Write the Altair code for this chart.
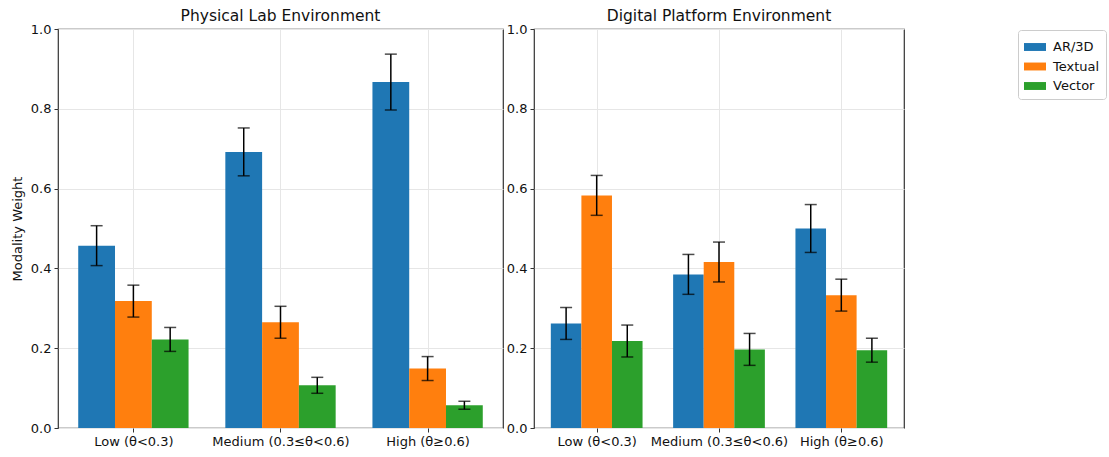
import altair as alt
import pandas as pd

# Threshold groups on the x axis and the three modalities per group
groups = ["Low (θ<0.3)", "Medium (0.3≤θ<0.6)", "High (θ≥0.6)"]
modalities = ["AR/3D", "Textual", "Vector"]
colors = ["#1f77b4", "#ff7f0e", "#2ca02c"]

# Physical lab: mean modality weight and error per modality (one value per group)
physical_ar = [0.457, 0.692, 0.867]
physical_text = [0.318, 0.265, 0.149]
physical_vec = [0.222, 0.107, 0.057]
physical_ar_err = [0.05, 0.06, 0.07]
physical_text_err = [0.04, 0.04, 0.03]
physical_vec_err = [0.03, 0.02, 0.01]

# Digital platform
digital_ar = [0.262, 0.385, 0.500]
digital_text = [0.583, 0.416, 0.333]
digital_vec = [0.218, 0.197, 0.195]
digital_ar_err = [0.04, 0.05, 0.06]
digital_text_err = [0.05, 0.05, 0.04]
digital_vec_err = [0.04, 0.04, 0.03]

FONT = "DejaVu Sans"
BAR_W = 0.25


def make_frame(means, errs):
    rows = []
    for mi, (m_list, e_list) in enumerate(zip(means, errs)):
        for gi, (m, e) in enumerate(zip(m_list, e_list)):
            rows.append({"gi": gi, "mi": mi, "modality": modalities[mi],
                         "mean": m, "err": e})
    return pd.DataFrame(rows)


def panel(df, title, width, show_ytitle):
    label_expr = "[" + ", ".join(f"'{g}'" for g in groups) + "][datum.value]"
    xscale = alt.Scale(domain=[-0.5125, 2.5125], nice=False, zero=False)
    yscale = alt.Scale(domain=[0, 1], nice=False)
    xaxis = alt.Axis(values=[0, 1, 2], labelExpr=label_expr, title=None,
                     grid=True, domain=False, tickSize=4, labelPadding=3)
    yaxis = alt.Axis(values=[0, 0.2, 0.4, 0.6, 0.8, 1.0], format=".1f",
                     title="Modality Weight" if show_ytitle else None,
                     grid=True, domain=False, tickSize=4, labelPadding=3,
                     titlePadding=6)

    base = alt.Chart(df).transform_calculate(
        pos=f"datum.gi + (datum.mi - 1) * {BAR_W}",
        zero="0",
        lo="datum.mean - datum.err",
        hi="datum.mean + datum.err",
    ).transform_calculate(
        left=f"datum.pos - {BAR_W / 2}",
        right=f"datum.pos + {BAR_W / 2}",
    )

    bars = base.mark_rect().encode(
        x=alt.X("left:Q", scale=xscale, axis=xaxis),
        x2="right:Q",
        y=alt.Y("mean:Q", scale=yscale, axis=yaxis),
        y2="zero:Q",
        color=alt.Color("modality:N",
                        scale=alt.Scale(domain=modalities, range=colors),
                        legend=alt.Legend(title=None)),
    )
    whisker = base.mark_rule(color="black", strokeWidth=1.5).encode(
        x="pos:Q", y="lo:Q", y2="hi:Q")
    cap_lo = base.mark_tick(color="black", orient="horizontal", size=12,
                            thickness=1.5).encode(x="pos:Q", y="lo:Q")
    cap_hi = base.mark_tick(color="black", orient="horizontal", size=12,
                            thickness=1.5).encode(x="pos:Q", y="hi:Q")

    return alt.layer(bars, whisker, cap_lo, cap_hi).properties(
        width=width, height=399,
        title=alt.TitleParams(title, fontSize=15.5, fontWeight="normal",
                              font=FONT, color="#111", offset=-1),
    )


phys = make_frame([physical_ar, physical_text, physical_vec],
                  [physical_ar_err, physical_text_err, physical_vec_err])
digi = make_frame([digital_ar, digital_text, digital_vec],
                  [digital_ar_err, digital_text_err, digital_vec_err])

chart = alt.hconcat(
    panel(phys, "Physical Lab Environment", 445, True),
    panel(digi, "Digital Platform Environment", 370, False),
    spacing=1,
).properties(
    padding={"left": 10, "top": 7, "right": 0, "bottom": 0},
    background="white",
).configure_view(
    stroke="#333333", strokeWidth=1.2,
).configure_axis(
    labelFont=FONT, titleFont=FONT, labelFontSize=13, titleFontSize=13,
    labelColor="#111", titleColor="#111", titleFontWeight="normal",
    tickColor="#333", gridColor="#e6e6e6", gridWidth=1,
).configure_legend(
    orient="none", legendX=960, legendY=1,
    strokeColor="#cccccc", cornerRadius=3, padding=6, fillColor="white",
    labelFont=FONT, labelFontSize=13, labelColor="#111",
    symbolType="M-1,-0.36H1V0.36H-1Z", symbolSize=484, symbolStrokeWidth=0,
    rowPadding=1.5, labelOffset=7,
)

chart.save("out.html", embed_options={"renderer": "svg", "actions": False})
